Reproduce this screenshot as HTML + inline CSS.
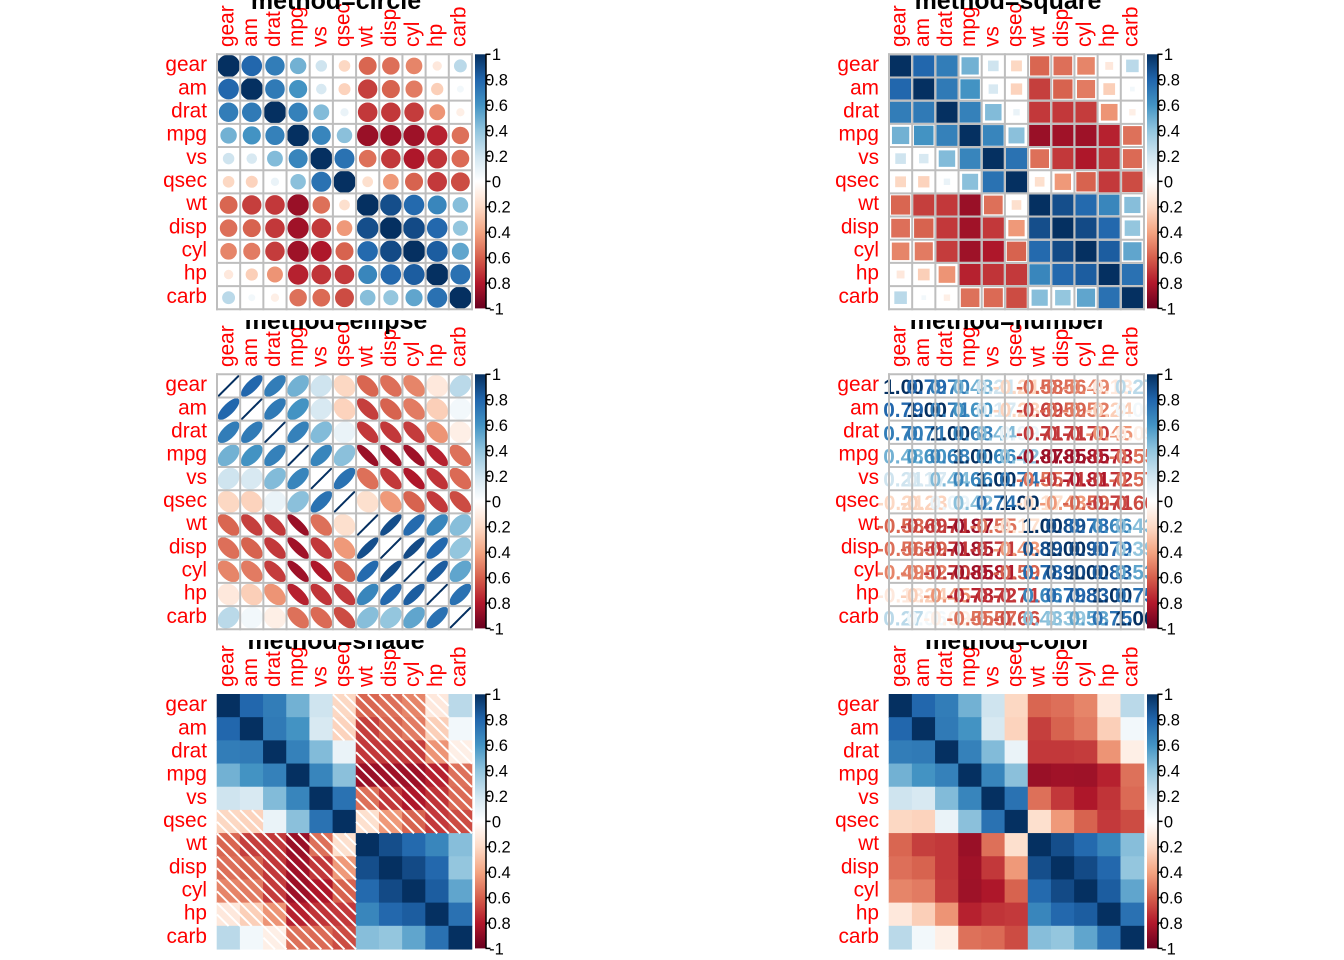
<!DOCTYPE html>
<html>
<head>
<meta charset="utf-8">
<style>
html,body{margin:0;padding:0;background:#fff;}
svg{display:block;}
text{font-family:"Liberation Sans",Arial,sans-serif;}
</style>
</head>
<body>
<svg id="svg" xmlns="http://www.w3.org/2000/svg" width="1344" height="960" viewBox="0 0 1344 960">
<defs>
<linearGradient id="cb" x1="0" y1="0" x2="0" y2="1">
<stop offset="0" stop-color="#053061"/>
<stop offset="0.1" stop-color="#2166AC"/>
<stop offset="0.2" stop-color="#4393C3"/>
<stop offset="0.3" stop-color="#92C5DE"/>
<stop offset="0.4" stop-color="#D1E5F0"/>
<stop offset="0.5" stop-color="#FFFFFF"/>
<stop offset="0.6" stop-color="#FDDBC7"/>
<stop offset="0.7" stop-color="#F4A582"/>
<stop offset="0.8" stop-color="#D6604D"/>
<stop offset="0.9" stop-color="#B2182B"/>
<stop offset="1" stop-color="#67001F"/>
</linearGradient>
<clipPath id="pc" clipPathUnits="userSpaceOnUse"><rect x="0" y="0" width="672" height="320"/></clipPath>
</defs>
<rect width="1344" height="960" fill="#fff"/>
<g id="shapes"></g>

<g id="nums" transform="translate(672,320)" font-size="20.8" font-weight="bold" text-anchor="middle" fill="#333">
<text x="228.6" y="73.9">&#160;1.00</text><text x="228.6" y="97.1">&#160;0.79</text><text x="228.6" y="120.3">&#160;0.70</text><text x="228.6" y="143.4">&#160;0.48</text><text x="228.6" y="166.6">&#160;0.21</text><text x="228.6" y="189.8">-0.21</text><text x="228.6" y="213.0">-0.58</text><text x="228.6" y="236.2">-0.56</text><text x="228.6" y="259.3">-0.49</text><text x="228.6" y="282.5">-0.13</text><text x="228.6" y="305.7">&#160;0.27</text>
<text x="251.8" y="73.9">&#160;0.79</text><text x="251.8" y="97.1">&#160;1.00</text><text x="251.8" y="120.3">&#160;0.71</text><text x="251.8" y="143.4">&#160;0.60</text><text x="251.8" y="166.6">&#160;0.17</text><text x="251.8" y="189.8">-0.23</text><text x="251.8" y="213.0">-0.69</text><text x="251.8" y="236.2">-0.59</text><text x="251.8" y="259.3">-0.52</text><text x="251.8" y="282.5">-0.24</text><text x="251.8" y="305.7">&#160;0.06</text>
<text x="275.0" y="73.9">&#160;0.70</text><text x="275.0" y="97.1">&#160;0.71</text><text x="275.0" y="120.3">&#160;1.00</text><text x="275.0" y="143.4">&#160;0.68</text><text x="275.0" y="166.6">&#160;0.44</text><text x="275.0" y="189.8">&#160;0.09</text><text x="275.0" y="213.0">-0.71</text><text x="275.0" y="236.2">-0.71</text><text x="275.0" y="259.3">-0.70</text><text x="275.0" y="282.5">-0.45</text><text x="275.0" y="305.7">-0.09</text>
<text x="298.1" y="73.9">&#160;0.48</text><text x="298.1" y="97.1">&#160;0.60</text><text x="298.1" y="120.3">&#160;0.68</text><text x="298.1" y="143.4">&#160;1.00</text><text x="298.1" y="166.6">&#160;0.66</text><text x="298.1" y="189.8">&#160;0.42</text><text x="298.1" y="213.0">-0.87</text><text x="298.1" y="236.2">-0.85</text><text x="298.1" y="259.3">-0.85</text><text x="298.1" y="282.5">-0.78</text><text x="298.1" y="305.7">-0.55</text>
<text x="321.3" y="73.9">&#160;0.21</text><text x="321.3" y="97.1">&#160;0.17</text><text x="321.3" y="120.3">&#160;0.44</text><text x="321.3" y="143.4">&#160;0.66</text><text x="321.3" y="166.6">&#160;1.00</text><text x="321.3" y="189.8">&#160;0.74</text><text x="321.3" y="213.0">-0.55</text><text x="321.3" y="236.2">-0.71</text><text x="321.3" y="259.3">-0.81</text><text x="321.3" y="282.5">-0.72</text><text x="321.3" y="305.7">-0.57</text>
<text x="344.5" y="73.9">-0.21</text><text x="344.5" y="97.1">-0.23</text><text x="344.5" y="120.3">&#160;0.09</text><text x="344.5" y="143.4">&#160;0.42</text><text x="344.5" y="166.6">&#160;0.74</text><text x="344.5" y="189.8">&#160;1.00</text><text x="344.5" y="213.0">-0.17</text><text x="344.5" y="236.2">-0.43</text><text x="344.5" y="259.3">-0.59</text><text x="344.5" y="282.5">-0.71</text><text x="344.5" y="305.7">-0.66</text>
<text x="367.7" y="73.9">-0.58</text><text x="367.7" y="97.1">-0.69</text><text x="367.7" y="120.3">-0.71</text><text x="367.7" y="143.4">-0.87</text><text x="367.7" y="166.6">-0.55</text><text x="367.7" y="189.8">-0.17</text><text x="367.7" y="213.0">&#160;1.00</text><text x="367.7" y="236.2">&#160;0.89</text><text x="367.7" y="259.3">&#160;0.78</text><text x="367.7" y="282.5">&#160;0.66</text><text x="367.7" y="305.7">&#160;0.43</text>
<text x="390.9" y="73.9">-0.56</text><text x="390.9" y="97.1">-0.59</text><text x="390.9" y="120.3">-0.71</text><text x="390.9" y="143.4">-0.85</text><text x="390.9" y="166.6">-0.71</text><text x="390.9" y="189.8">-0.43</text><text x="390.9" y="213.0">&#160;0.89</text><text x="390.9" y="236.2">&#160;1.00</text><text x="390.9" y="259.3">&#160;0.90</text><text x="390.9" y="282.5">&#160;0.79</text><text x="390.9" y="305.7">&#160;0.39</text>
<text x="414.0" y="73.9">-0.49</text><text x="414.0" y="97.1">-0.52</text><text x="414.0" y="120.3">-0.70</text><text x="414.0" y="143.4">-0.85</text><text x="414.0" y="166.6">-0.81</text><text x="414.0" y="189.8">-0.59</text><text x="414.0" y="213.0">&#160;0.78</text><text x="414.0" y="236.2">&#160;0.90</text><text x="414.0" y="259.3">&#160;1.00</text><text x="414.0" y="282.5">&#160;0.83</text><text x="414.0" y="305.7">&#160;0.53</text>
<text x="437.2" y="73.9">-0.13</text><text x="437.2" y="97.1">-0.24</text><text x="437.2" y="120.3">-0.45</text><text x="437.2" y="143.4">-0.78</text><text x="437.2" y="166.6">-0.72</text><text x="437.2" y="189.8">-0.71</text><text x="437.2" y="213.0">&#160;0.66</text><text x="437.2" y="236.2">&#160;0.79</text><text x="437.2" y="259.3">&#160;0.83</text><text x="437.2" y="282.5">&#160;1.00</text><text x="437.2" y="305.7">&#160;0.75</text>
<text x="460.4" y="73.9">&#160;0.27</text><text x="460.4" y="97.1">&#160;0.06</text><text x="460.4" y="120.3">-0.09</text><text x="460.4" y="143.4">-0.55</text><text x="460.4" y="166.6">-0.57</text><text x="460.4" y="189.8">-0.66</text><text x="460.4" y="213.0">&#160;0.43</text><text x="460.4" y="236.2">&#160;0.39</text><text x="460.4" y="259.3">&#160;0.53</text><text x="460.4" y="282.5">&#160;0.75</text><text x="460.4" y="305.7">&#160;1.00</text>
</g>

<g id="grid"></g>

<!-- Panel 1: circle -->
<g transform="translate(0,0)">
<g fill="#FF0000" font-size="20.8">
<g text-anchor="end">
<text x="207" y="71.1">gear</text><text x="207" y="94.3">am</text><text x="207" y="117.5">drat</text><text x="207" y="140.6">mpg</text><text x="207" y="163.8">vs</text><text x="207" y="187.0">qsec</text><text x="207" y="210.2">wt</text><text x="207" y="233.4">disp</text><text x="207" y="256.5">cyl</text><text x="207" y="279.7">hp</text><text x="207" y="302.9">carb</text>
</g>
<text transform="translate(233.6,47) rotate(-90)">gear</text><text transform="translate(256.8,47) rotate(-90)">am</text><text transform="translate(280.0,47) rotate(-90)">drat</text><text transform="translate(303.1,47) rotate(-90)">mpg</text><text transform="translate(326.3,47) rotate(-90)">vs</text><text transform="translate(349.5,47) rotate(-90)">qsec</text><text transform="translate(372.7,47) rotate(-90)">wt</text><text transform="translate(395.9,47) rotate(-90)">disp</text><text transform="translate(419.0,47) rotate(-90)">cyl</text><text transform="translate(442.2,47) rotate(-90)">hp</text><text transform="translate(465.4,47) rotate(-90)">carb</text>
</g>
<g font-size="16.5" text-anchor="middle" fill="#000">
<text x="496.5" y="60.2">1</text><text x="496.5" y="85.6">0.8</text><text x="496.5" y="111.0">0.6</text><text x="496.5" y="136.4">0.4</text><text x="496.5" y="161.8">0.2</text><text x="496.5" y="187.3">0</text><text x="496.5" y="212.7">-0.2</text><text x="496.5" y="238.1">-0.4</text><text x="496.5" y="263.5">-0.6</text><text x="496.5" y="288.9">-0.8</text><text x="496.5" y="314.3">-1</text>
</g>
<text x="336" y="9" font-size="25" font-weight="bold" text-anchor="middle" fill="#000" clip-path="url(#pc)">method=circle</text>
</g>

<!-- Panel 2: square -->
<g transform="translate(672,0)">
<g fill="#FF0000" font-size="20.8">
<g text-anchor="end">
<text x="207" y="71.1">gear</text><text x="207" y="94.3">am</text><text x="207" y="117.5">drat</text><text x="207" y="140.6">mpg</text><text x="207" y="163.8">vs</text><text x="207" y="187.0">qsec</text><text x="207" y="210.2">wt</text><text x="207" y="233.4">disp</text><text x="207" y="256.5">cyl</text><text x="207" y="279.7">hp</text><text x="207" y="302.9">carb</text>
</g>
<text transform="translate(233.6,47) rotate(-90)">gear</text><text transform="translate(256.8,47) rotate(-90)">am</text><text transform="translate(280.0,47) rotate(-90)">drat</text><text transform="translate(303.1,47) rotate(-90)">mpg</text><text transform="translate(326.3,47) rotate(-90)">vs</text><text transform="translate(349.5,47) rotate(-90)">qsec</text><text transform="translate(372.7,47) rotate(-90)">wt</text><text transform="translate(395.9,47) rotate(-90)">disp</text><text transform="translate(419.0,47) rotate(-90)">cyl</text><text transform="translate(442.2,47) rotate(-90)">hp</text><text transform="translate(465.4,47) rotate(-90)">carb</text>
</g>
<g font-size="16.5" text-anchor="middle" fill="#000">
<text x="496.5" y="60.2">1</text><text x="496.5" y="85.6">0.8</text><text x="496.5" y="111.0">0.6</text><text x="496.5" y="136.4">0.4</text><text x="496.5" y="161.8">0.2</text><text x="496.5" y="187.3">0</text><text x="496.5" y="212.7">-0.2</text><text x="496.5" y="238.1">-0.4</text><text x="496.5" y="263.5">-0.6</text><text x="496.5" y="288.9">-0.8</text><text x="496.5" y="314.3">-1</text>
</g>
<text x="336" y="9" font-size="25" font-weight="bold" text-anchor="middle" fill="#000" clip-path="url(#pc)">method=square</text>
</g>

<!-- Panel 3: ellipse -->
<g transform="translate(0,320)">
<g fill="#FF0000" font-size="20.8">
<g text-anchor="end">
<text x="207" y="71.1">gear</text><text x="207" y="94.3">am</text><text x="207" y="117.5">drat</text><text x="207" y="140.6">mpg</text><text x="207" y="163.8">vs</text><text x="207" y="187.0">qsec</text><text x="207" y="210.2">wt</text><text x="207" y="233.4">disp</text><text x="207" y="256.5">cyl</text><text x="207" y="279.7">hp</text><text x="207" y="302.9">carb</text>
</g>
<text transform="translate(233.6,47) rotate(-90)">gear</text><text transform="translate(256.8,47) rotate(-90)">am</text><text transform="translate(280.0,47) rotate(-90)">drat</text><text transform="translate(303.1,47) rotate(-90)">mpg</text><text transform="translate(326.3,47) rotate(-90)">vs</text><text transform="translate(349.5,47) rotate(-90)">qsec</text><text transform="translate(372.7,47) rotate(-90)">wt</text><text transform="translate(395.9,47) rotate(-90)">disp</text><text transform="translate(419.0,47) rotate(-90)">cyl</text><text transform="translate(442.2,47) rotate(-90)">hp</text><text transform="translate(465.4,47) rotate(-90)">carb</text>
</g>
<g font-size="16.5" text-anchor="middle" fill="#000">
<text x="496.5" y="60.2">1</text><text x="496.5" y="85.6">0.8</text><text x="496.5" y="111.0">0.6</text><text x="496.5" y="136.4">0.4</text><text x="496.5" y="161.8">0.2</text><text x="496.5" y="187.3">0</text><text x="496.5" y="212.7">-0.2</text><text x="496.5" y="238.1">-0.4</text><text x="496.5" y="263.5">-0.6</text><text x="496.5" y="288.9">-0.8</text><text x="496.5" y="314.3">-1</text>
</g>
<text x="336" y="9" font-size="25" font-weight="bold" text-anchor="middle" fill="#000" clip-path="url(#pc)">method=ellipse</text>
</g>

<!-- Panel 4: number -->
<g transform="translate(672,320)">
<g fill="#FF0000" font-size="20.8">
<g text-anchor="end">
<text x="207" y="71.1">gear</text><text x="207" y="94.3">am</text><text x="207" y="117.5">drat</text><text x="207" y="140.6">mpg</text><text x="207" y="163.8">vs</text><text x="207" y="187.0">qsec</text><text x="207" y="210.2">wt</text><text x="207" y="233.4">disp</text><text x="207" y="256.5">cyl</text><text x="207" y="279.7">hp</text><text x="207" y="302.9">carb</text>
</g>
<text transform="translate(233.6,47) rotate(-90)">gear</text><text transform="translate(256.8,47) rotate(-90)">am</text><text transform="translate(280.0,47) rotate(-90)">drat</text><text transform="translate(303.1,47) rotate(-90)">mpg</text><text transform="translate(326.3,47) rotate(-90)">vs</text><text transform="translate(349.5,47) rotate(-90)">qsec</text><text transform="translate(372.7,47) rotate(-90)">wt</text><text transform="translate(395.9,47) rotate(-90)">disp</text><text transform="translate(419.0,47) rotate(-90)">cyl</text><text transform="translate(442.2,47) rotate(-90)">hp</text><text transform="translate(465.4,47) rotate(-90)">carb</text>
</g>
<g font-size="16.5" text-anchor="middle" fill="#000">
<text x="496.5" y="60.2">1</text><text x="496.5" y="85.6">0.8</text><text x="496.5" y="111.0">0.6</text><text x="496.5" y="136.4">0.4</text><text x="496.5" y="161.8">0.2</text><text x="496.5" y="187.3">0</text><text x="496.5" y="212.7">-0.2</text><text x="496.5" y="238.1">-0.4</text><text x="496.5" y="263.5">-0.6</text><text x="496.5" y="288.9">-0.8</text><text x="496.5" y="314.3">-1</text>
</g>
<text x="336" y="9" font-size="25" font-weight="bold" text-anchor="middle" fill="#000" clip-path="url(#pc)">method=number</text>
</g>

<!-- Panel 5: shade -->
<g transform="translate(0,640)">
<g fill="#FF0000" font-size="20.8">
<g text-anchor="end">
<text x="207" y="71.1">gear</text><text x="207" y="94.3">am</text><text x="207" y="117.5">drat</text><text x="207" y="140.6">mpg</text><text x="207" y="163.8">vs</text><text x="207" y="187.0">qsec</text><text x="207" y="210.2">wt</text><text x="207" y="233.4">disp</text><text x="207" y="256.5">cyl</text><text x="207" y="279.7">hp</text><text x="207" y="302.9">carb</text>
</g>
<text transform="translate(233.6,47) rotate(-90)">gear</text><text transform="translate(256.8,47) rotate(-90)">am</text><text transform="translate(280.0,47) rotate(-90)">drat</text><text transform="translate(303.1,47) rotate(-90)">mpg</text><text transform="translate(326.3,47) rotate(-90)">vs</text><text transform="translate(349.5,47) rotate(-90)">qsec</text><text transform="translate(372.7,47) rotate(-90)">wt</text><text transform="translate(395.9,47) rotate(-90)">disp</text><text transform="translate(419.0,47) rotate(-90)">cyl</text><text transform="translate(442.2,47) rotate(-90)">hp</text><text transform="translate(465.4,47) rotate(-90)">carb</text>
</g>
<g font-size="16.5" text-anchor="middle" fill="#000">
<text x="496.5" y="60.2">1</text><text x="496.5" y="85.6">0.8</text><text x="496.5" y="111.0">0.6</text><text x="496.5" y="136.4">0.4</text><text x="496.5" y="161.8">0.2</text><text x="496.5" y="187.3">0</text><text x="496.5" y="212.7">-0.2</text><text x="496.5" y="238.1">-0.4</text><text x="496.5" y="263.5">-0.6</text><text x="496.5" y="288.9">-0.8</text><text x="496.5" y="314.3">-1</text>
</g>
<text x="336" y="9" font-size="25" font-weight="bold" text-anchor="middle" fill="#000" clip-path="url(#pc)">method=shade</text>
</g>

<!-- Panel 6: color -->
<g transform="translate(672,640)">
<g fill="#FF0000" font-size="20.8">
<g text-anchor="end">
<text x="207" y="71.1">gear</text><text x="207" y="94.3">am</text><text x="207" y="117.5">drat</text><text x="207" y="140.6">mpg</text><text x="207" y="163.8">vs</text><text x="207" y="187.0">qsec</text><text x="207" y="210.2">wt</text><text x="207" y="233.4">disp</text><text x="207" y="256.5">cyl</text><text x="207" y="279.7">hp</text><text x="207" y="302.9">carb</text>
</g>
<text transform="translate(233.6,47) rotate(-90)">gear</text><text transform="translate(256.8,47) rotate(-90)">am</text><text transform="translate(280.0,47) rotate(-90)">drat</text><text transform="translate(303.1,47) rotate(-90)">mpg</text><text transform="translate(326.3,47) rotate(-90)">vs</text><text transform="translate(349.5,47) rotate(-90)">qsec</text><text transform="translate(372.7,47) rotate(-90)">wt</text><text transform="translate(395.9,47) rotate(-90)">disp</text><text transform="translate(419.0,47) rotate(-90)">cyl</text><text transform="translate(442.2,47) rotate(-90)">hp</text><text transform="translate(465.4,47) rotate(-90)">carb</text>
</g>
<g font-size="16.5" text-anchor="middle" fill="#000">
<text x="496.5" y="60.2">1</text><text x="496.5" y="85.6">0.8</text><text x="496.5" y="111.0">0.6</text><text x="496.5" y="136.4">0.4</text><text x="496.5" y="161.8">0.2</text><text x="496.5" y="187.3">0</text><text x="496.5" y="212.7">-0.2</text><text x="496.5" y="238.1">-0.4</text><text x="496.5" y="263.5">-0.6</text><text x="496.5" y="288.9">-0.8</text><text x="496.5" y="314.3">-1</text>
</g>
<text x="336" y="9" font-size="25" font-weight="bold" text-anchor="middle" fill="#000" clip-path="url(#pc)">method=color</text>
</g>

<g id="bars"></g>
</svg>

<script>
(function(){
var M=[
[1,.794059,.699610,.480285,.206023,-.212682,-.583287,-.555569,-.492687,-.125704,.274073],
[.794059,1,.712711,.599832,.168345,-.229861,-.692495,-.591227,-.522607,-.243204,.057534],
[.699610,.712711,1,.681172,.440278,.091205,-.712441,-.710214,-.699938,-.448759,-.090790],
[.480285,.599832,.681172,1,.664039,.418684,-.867659,-.847551,-.852162,-.776168,-.550925],
[.206023,.168345,.440278,.664039,1,.744535,-.554916,-.710416,-.810812,-.723097,-.569607],
[-.212682,-.229861,.091205,.418684,.744535,1,-.174716,-.433698,-.591242,-.708223,-.656249],
[-.583287,-.692495,-.712441,-.867659,-.554916,-.174716,1,.887980,.782496,.658748,.427606],
[-.555569,-.591227,-.710214,-.847551,-.710416,-.433698,.887980,1,.902033,.790949,.394977],
[-.492687,-.522607,-.699938,-.852162,-.810812,-.591242,.782496,.902033,1,.832447,.526988],
[-.125704,-.243204,-.448759,-.776168,-.723097,-.708223,.658748,.790949,.832447,1,.749812],
[.274073,.057534,-.090790,-.550925,-.569607,-.656249,.427606,.394977,.526988,.749812,1]];
var H=['67001F','B2182B','D6604D','F4A582','FDDBC7','FFFFFF','D1E5F0','92C5DE','4393C3','2166AC','053061'];
var P=H.map(function(h){return [parseInt(h.substr(0,2),16),parseInt(h.substr(2,2),16),parseInt(h.substr(4,2),16)];});
function col(r){
  var t=(r+1)/2*10; if(t<0)t=0; if(t>10)t=10;
  var i=Math.min(9,Math.floor(t)), f=t-i, a=P[i], b=P[i+1];
  return 'rgb('+Math.round(a[0]+(b[0]-a[0])*f)+','+Math.round(a[1]+(b[1]-a[1])*f)+','+Math.round(a[2]+(b[2]-a[2])*f)+')';
}
var NS='http://www.w3.org/2000/svg';
function el(par,tag,at){var e=document.createElementNS(NS,tag);for(var k in at)e.setAttribute(k,at[k]);par.appendChild(e);return e;}
var S=document.getElementById('shapes'),G=document.getElementById('grid'),B=document.getElementById('bars');
var cs=23.18,X0=217,Y0=54.3,W=cs*11;
var meth=['circle','square','ellipse','number','shade','color'];
for(var p=0;p<6;p++){
  var ox=(p%2)*672, oy=Math.floor(p/2)*320, m=meth[p];
  var i,j;
  for(i=0;i<11;i++)for(j=0;j<11;j++){
    var r=M[i][j], c=col(r), L=ox+X0+cs*j, T=oy+Y0+cs*i, cx=L+cs/2, cy=T+cs/2, ar=Math.abs(r);
    if(m==='circle'){
      el(S,'circle',{cx:cx,cy:cy,r:0.45*Math.sqrt(ar)*cs,fill:c,stroke:c,'stroke-width':2});
    } else if(m==='square'){
      var s=Math.min(cs,1.2*Math.sqrt(ar)*cs);
      el(S,'rect',{x:cx-s/2,y:cy-s/2,width:s,height:s,fill:c,stroke:'#fff','stroke-width':2});
    } else if(m==='ellipse'){
      var a=Math.acos(Math.max(-1,Math.min(1,r))), d='';
      for(var k=0;k<100;k++){
        var t=2*Math.PI*k/99;
        var x=cx+0.85*cs*Math.cos(t+a/2)/2, y=cy-0.85*cs*Math.cos(t-a/2)/2;
        d+=(k?'L':'M')+x.toFixed(2)+','+y.toFixed(2);
      }
      el(S,'path',{d:d+'Z',fill:c,stroke:c,'stroke-width':2,'stroke-linejoin':'round'});
    } else if(m==='shade'||m==='color'){
      el(S,'rect',{x:L-0.3,y:T-0.3,width:cs+0.6,height:cs+0.6,fill:c});
    }
  }
  if(m==='shade'){
    for(i=0;i<11;i++)for(j=0;j<11;j++){
      var r2=M[i][j]; if(r2>=0) continue;
      var L2=ox+X0+cs*j, T2=oy+Y0+cs*i, R2=L2+cs, B2=T2+cs, cx2=L2+cs/2, cy2=T2+cs/2;
      el(S,'line',{x1:L2,y1:cy2,x2:cx2,y2:B2,stroke:'#fff','stroke-width':2});
      el(S,'line',{x1:L2,y1:T2,x2:R2,y2:B2,stroke:'#fff','stroke-width':2});
      el(S,'line',{x1:cx2,y1:T2,x2:R2,y2:cy2,stroke:'#fff','stroke-width':2});
    }
  }
  if(m==='circle'||m==='square'||m==='ellipse'||m==='number'){
    for(var g=0;g<=11;g++){
      var gx=ox+X0+cs*g, gy=oy+Y0+cs*g;
      el(G,'line',{x1:gx,y1:oy+Y0-1,x2:gx,y2:oy+Y0+W+1,stroke:'#BEBEBE','stroke-width':2});
      el(G,'line',{x1:ox+X0-1,y1:gy,x2:ox+X0+W+1,y2:gy,stroke:'#BEBEBE','stroke-width':2});
    }
  }
  el(B,'rect',{x:ox+475,y:oy+54.3,width:10.5,height:254.1,fill:'url(#cb)'});
  el(B,'line',{x1:ox+486,y1:oy+54.3,x2:ox+486,y2:oy+308.4,stroke:'#000','stroke-width':1.5});
  for(var q=0;q<=10;q++){
    var ty=oy+54.3+q*25.41;
    el(B,'line',{x1:ox+485.5,y1:ty,x2:ox+490.5,y2:ty,stroke:'#000','stroke-width':1.5});
  }
}
var nt=document.querySelectorAll('#nums text');
for(var n=0;n<nt.length;n++){
  var jj=Math.floor(n/11), ii=n%11;
  nt[n].setAttribute('fill',col(M[ii][jj]));
}
})();
</script>
</body>
</html>
